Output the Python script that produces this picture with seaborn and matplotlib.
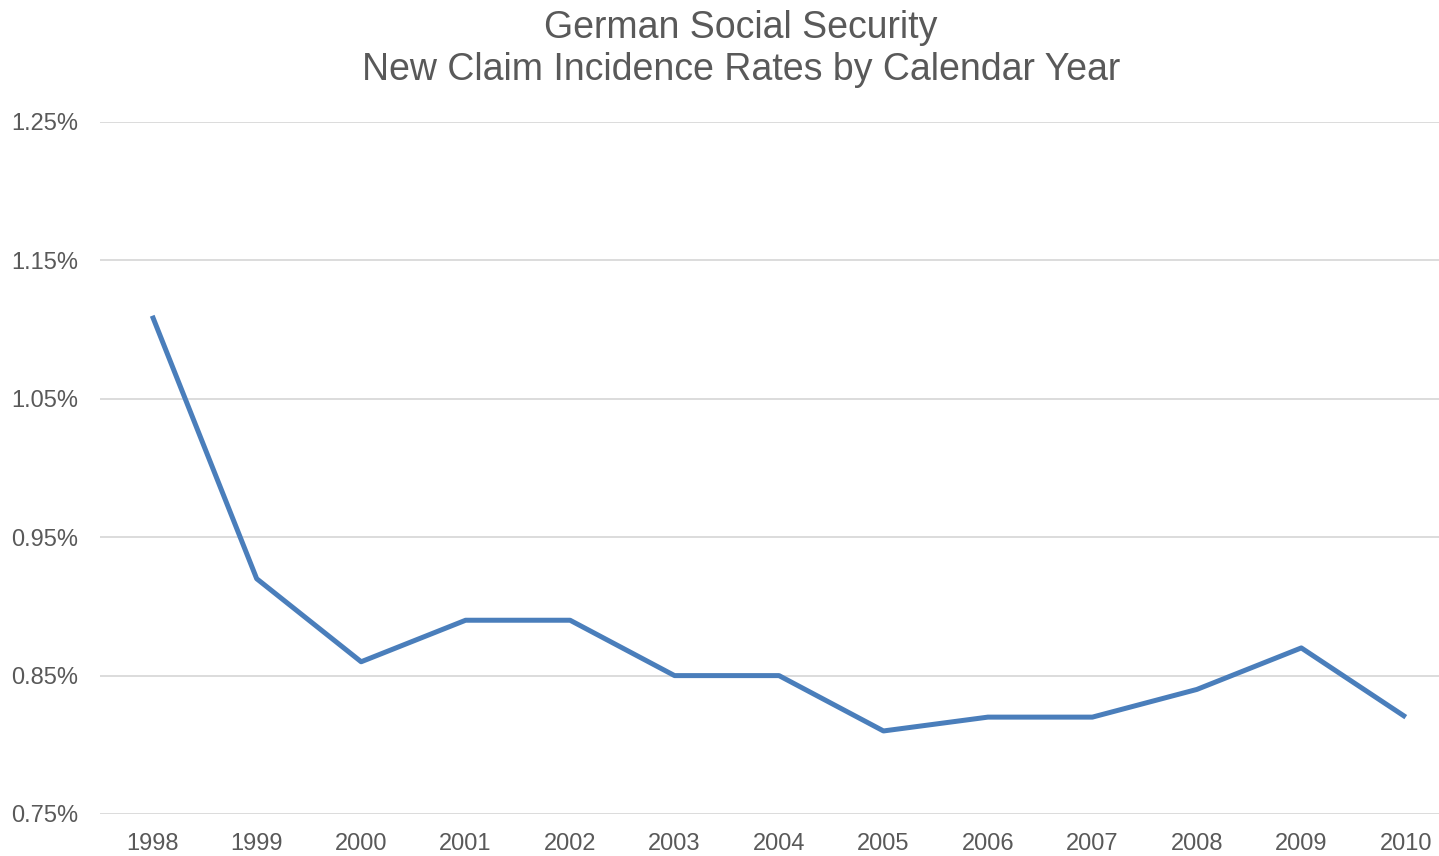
import matplotlib
matplotlib.use("Agg")
import matplotlib.pyplot as plt
import seaborn as sns
import pandas as pd
from matplotlib.ticker import FuncFormatter

years = [1998, 1999, 2000, 2001, 2002, 2003, 2004, 2005, 2006, 2007, 2008, 2009, 2010]
incidence_pct = [1.11, 0.92, 0.86, 0.89, 0.89, 0.85, 0.85, 0.81, 0.82, 0.82, 0.84, 0.87, 0.82]
y_ticks = [0.75, 0.85, 0.95, 1.05, 1.15, 1.25]
title_lines = ["German Social Security", "New Claim Incidence Rates by Calendar Year"]

sns.set_theme(style="white")
plt.rcParams["font.family"] = ["Liberation Sans", "DejaVu Sans"]

text_color = "#595959"
grid_color = "#D9D9D9"
line_color = "#4A7EBB"

df = pd.DataFrame({"year": years, "rate": incidence_pct})

fig = plt.figure(figsize=(14.39, 8.56), dpi=100)
ax = fig.add_axes([100 / 1439, 42 / 856, 1358 / 1439, 692 / 856])

sns.lineplot(data=df, x="year", y="rate", ax=ax, color=line_color,
             linewidth=3.6, solid_capstyle="butt")

ax.set_xlim(years[0] - 0.5, years[-1] + 0.5)
ax.set_ylim(y_ticks[0], y_ticks[-1])
ax.set_xticks(years)
ax.set_xticklabels([str(y) for y in years])
ax.set_yticks(y_ticks)
ax.yaxis.set_major_formatter(FuncFormatter(lambda v, _: f"{v:.2f}%"))

ax.grid(axis="y", color=grid_color, linewidth=1.3)
ax.set_axisbelow(True)
for s in ax.spines.values():
    s.set_visible(False)
ax.tick_params(axis="both", length=0, labelsize=17, colors=text_color)
ax.tick_params(axis="y", pad=16)
ax.tick_params(axis="x", pad=14)
ax.set_xlabel("")
ax.set_ylabel("")

fig.text(741 / 1439, 1 - 49 / 856, "\n".join(title_lines), ha="center", va="center",
         fontsize=27, color=text_color, linespacing=1.25)

fig.savefig("out.png", dpi=100)
